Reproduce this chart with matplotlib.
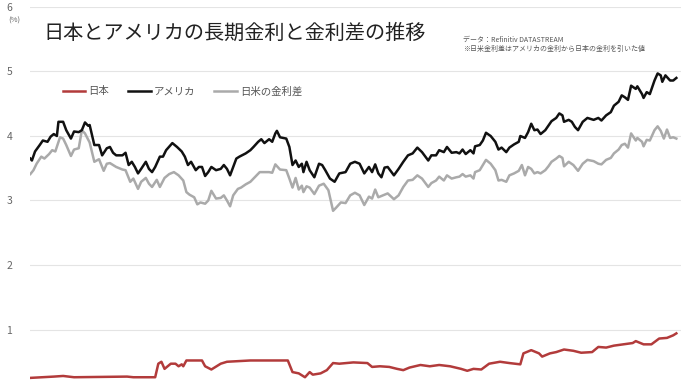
import matplotlib
matplotlib.use("Agg")
import matplotlib.pyplot as plt
import numpy as np

plt.rcParams['font.family'] = ['Noto Sans CJK JP', 'DejaVu Sans']

# days from the start of the period (approx. Sep 2022 - Oct 2023)
us_days = [0, 1, 3, 6, 8, 11, 13, 15, 17, 18, 21, 23, 26, 28, 31, 33, 35, 37, 38, 41,
           44, 46, 49, 51, 53, 55, 59, 61, 63, 65, 67, 69, 71, 74, 76, 78, 80, 83, 85, 87,
           91, 94, 97, 99, 101, 103, 106, 108, 110, 112, 114, 116, 119, 122, 124, 126, 128, 130, 132, 134,
           138, 141, 143, 146, 148, 150, 153, 155, 157, 158, 160, 164, 166, 168, 170, 172, 174, 175, 177, 179,
           182, 185, 187, 189, 192, 195, 198, 202, 205, 208, 211, 214, 217, 219, 221, 223, 225, 227, 229, 233,
           236, 239, 242, 245, 248, 251, 255, 257, 260, 262, 265, 267, 270, 273, 275, 277, 279, 282, 284, 285,
           288, 290, 292, 295, 298, 300, 302, 305, 307, 310, 313, 314, 317, 319, 321, 323, 325, 327, 330, 332,
           334, 337, 339, 341, 342, 345, 347, 349, 351, 354, 357, 361, 364, 366, 369, 372, 374, 377, 379, 381,
           383, 385, 388, 389, 392, 393, 395, 397, 400, 402, 404, 405, 407, 410, 412, 414]
us_rate = [3.65, 3.62, 3.76, 3.86, 3.93, 3.91, 3.99, 4.03, 4.00, 4.22, 4.22, 4.09, 3.96, 4.07, 4.06, 4.09, 4.21, 4.16, 4.17, 3.86,
           3.86, 3.70, 3.81, 3.83, 3.74, 3.70, 3.70, 3.74, 3.55, 3.60, 3.52, 3.42, 3.49, 3.60, 3.49, 3.44, 3.52, 3.68, 3.68, 3.78,
           3.89, 3.83, 3.76, 3.68, 3.55, 3.60, 3.47, 3.52, 3.52, 3.38, 3.44, 3.52, 3.47, 3.49, 3.55, 3.49, 3.39, 3.52, 3.65, 3.68,
           3.73, 3.78, 3.83, 3.91, 3.95, 3.89, 3.95, 3.91, 4.04, 4.08, 3.98, 3.96, 3.83, 3.55, 3.62, 3.52, 3.57, 3.44, 3.60, 3.47,
           3.36, 3.57, 3.55, 3.47, 3.34, 3.29, 3.42, 3.44, 3.57, 3.60, 3.57, 3.42, 3.52, 3.44, 3.56, 3.42, 3.36, 3.51, 3.52, 3.39,
           3.49, 3.60, 3.70, 3.73, 3.82, 3.75, 3.62, 3.70, 3.70, 3.78, 3.75, 3.83, 3.74, 3.75, 3.73, 3.79, 3.72, 3.78, 3.73, 3.84,
           3.86, 3.93, 4.05, 4.00, 3.91, 3.79, 3.82, 3.75, 3.82, 3.87, 3.91, 4.00, 3.97, 4.06, 4.19, 4.09, 4.10, 4.03, 4.09, 4.16,
           4.23, 4.28, 4.35, 4.32, 4.22, 4.25, 4.22, 4.14, 4.09, 4.22, 4.28, 4.25, 4.28, 4.24, 4.32, 4.37, 4.47, 4.53, 4.63, 4.60,
           4.56, 4.78, 4.73, 4.77, 4.65, 4.59, 4.68, 4.65, 4.86, 4.97, 4.94, 4.84, 4.94, 4.86, 4.86, 4.90]

spread_days = [0, 2, 4, 7, 9, 12, 14, 16, 19, 21, 23, 26, 28, 31, 33, 35, 38, 41, 44, 47,
               49, 51, 55, 59, 61, 64, 66, 69, 71, 74, 76, 78, 81, 83, 86, 89, 92, 95, 98, 100,
               102, 105, 107, 109, 112, 114, 116, 119, 122, 124, 126, 128, 130, 133, 135, 138, 141, 143, 147, 149,
               153, 155, 157, 160, 164, 166, 168, 170, 172, 174, 175, 177, 179, 182, 185, 188, 191, 194, 196, 199,
               202, 205, 208, 211, 214, 217, 219, 221, 223, 226, 229, 233, 236, 239, 242, 245, 248, 251, 255, 257,
               260, 262, 265, 267, 270, 273, 275, 277, 279, 282, 284, 285, 288, 290, 292, 295, 298, 300, 302, 305,
               307, 310, 313, 315, 317, 319, 321, 323, 325, 327, 330, 332, 334, 337, 339, 341, 342, 345, 348, 351,
               354, 357, 361, 364, 366, 369, 372, 374, 377, 379, 381, 383, 385, 388, 389, 392, 393, 395, 397, 400,
               402, 404, 406, 408, 410, 412, 414]
spread = [3.41, 3.47, 3.57, 3.68, 3.65, 3.72, 3.78, 3.76, 3.98, 3.96, 3.86, 3.69, 3.79, 3.81, 4.09, 4.04, 3.90, 3.60, 3.64, 3.46,
          3.57, 3.58, 3.52, 3.48, 3.47, 3.29, 3.34, 3.18, 3.29, 3.35, 3.26, 3.21, 3.32, 3.21, 3.35, 3.41, 3.44, 3.39, 3.31, 3.13,
          3.09, 3.05, 2.94, 2.97, 2.95, 3.00, 3.15, 3.03, 3.04, 3.08, 3.00, 2.91, 3.08, 3.18, 3.20, 3.25, 3.29, 3.34, 3.44, 3.44,
          3.44, 3.43, 3.56, 3.48, 3.47, 3.34, 3.20, 3.35, 3.17, 3.23, 3.13, 3.22, 3.20, 3.10, 3.23, 3.26, 3.16, 2.84, 2.89, 2.97,
          2.96, 3.08, 3.12, 3.08, 2.93, 3.06, 3.03, 3.17, 3.05, 3.08, 3.11, 3.02, 3.08, 3.21, 3.31, 3.32, 3.39, 3.34, 3.21, 3.27,
          3.31, 3.37, 3.31, 3.39, 3.34, 3.36, 3.37, 3.41, 3.37, 3.39, 3.34, 3.44, 3.47, 3.55, 3.63, 3.57, 3.47, 3.31, 3.32, 3.29,
          3.39, 3.42, 3.46, 3.55, 3.39, 3.52, 3.49, 3.42, 3.44, 3.42, 3.47, 3.53, 3.60, 3.65, 3.69, 3.66, 3.53, 3.60, 3.55, 3.46,
          3.57, 3.63, 3.61, 3.57, 3.56, 3.63, 3.66, 3.73, 3.79, 3.86, 3.88, 3.82, 4.04, 3.93, 3.97, 3.91, 3.84, 3.94, 3.93, 4.09,
          4.15, 4.08, 3.96, 4.10, 3.97, 3.98, 3.96]

jp_days = [0, 15, 21, 28, 62, 66, 80, 82, 84, 86, 90, 93, 95, 97, 98, 100, 110, 112, 116, 122,
           126, 141, 165, 168, 172, 174, 176, 179, 181, 186, 190, 194, 198, 207, 216, 219, 224, 230, 235, 239,
           243, 250, 256, 262, 269, 276, 280, 284, 289, 294, 301, 307, 314, 316, 321, 326, 328, 333, 337, 342,
           348, 353, 360, 364, 369, 374, 380, 386, 388, 393, 398, 403, 408, 412, 414]
jp_rate = [0.25, 0.27, 0.28, 0.26, 0.27, 0.26, 0.26, 0.47, 0.50, 0.39, 0.47, 0.47, 0.43, 0.46, 0.43, 0.52, 0.52, 0.43, 0.38, 0.47,
           0.50, 0.52, 0.52, 0.34, 0.32, 0.29, 0.26, 0.34, 0.30, 0.32, 0.37, 0.48, 0.47, 0.49, 0.48, 0.42, 0.43, 0.42, 0.39, 0.37,
           0.41, 0.45, 0.43, 0.45, 0.43, 0.39, 0.36, 0.39, 0.38, 0.47, 0.50, 0.48, 0.46, 0.63, 0.68, 0.63, 0.58, 0.63, 0.65, 0.69,
           0.67, 0.64, 0.65, 0.73, 0.72, 0.75, 0.77, 0.79, 0.82, 0.77, 0.77, 0.86, 0.87, 0.91, 0.94]

yticks = [1, 2, 3, 4, 5, 6]

fig = plt.figure(figsize=(6.9, 3.88), dpi=100)
ax = fig.add_axes([0.044, -0.0155, 0.943, 0.9975])

ax.plot(jp_days, jp_rate, color='#b23b3b', lw=1.8, label='日本', zorder=3)
ax.plot(us_days, us_rate, color='#111111', lw=1.8, label='アメリカ', zorder=3)
ax.plot(spread_days, spread, color='#aaaaaa', lw=1.8, label='日米の金利差', zorder=2)

ax.set_xlim(0, 417)
ax.set_ylim(0, 6)
ax.set_yticks(yticks)
ax.set_yticklabels([str(t) for t in yticks])
ax.set_xticks([])
ax.grid(axis='y', color='#e4e4e4', lw=0.8)
ax.tick_params(axis='y', length=0, pad=13, labelsize=7.5, labelcolor='#666666')
for s in ax.spines.values():
    s.set_visible(False)

fig.text(0.012, 0.948, '(%)', fontsize=5.5, color='#666666', va='center')
fig.text(0.063, 0.915, '日本とアメリカの長期金利と金利差の推移', fontsize=14.5,
         color='#222222', va='center')
fig.text(0.671, 0.897, 'データ：Refinitiv DATASTREAM', fontsize=5, color='#555555', va='center')
fig.text(0.671, 0.873, '※日米金利差はアメリカの金利から日本の金利を引いた値', fontsize=5,
         color='#555555', va='center')

ax.legend(loc='upper left', bbox_to_anchor=(0.035, 0.82), ncol=3, frameon=False,
          fontsize=7.5, labelcolor='#555555', handlelength=2.2, handletextpad=0.3,
          columnspacing=1.8)

fig.savefig('out.png', dpi=100)
